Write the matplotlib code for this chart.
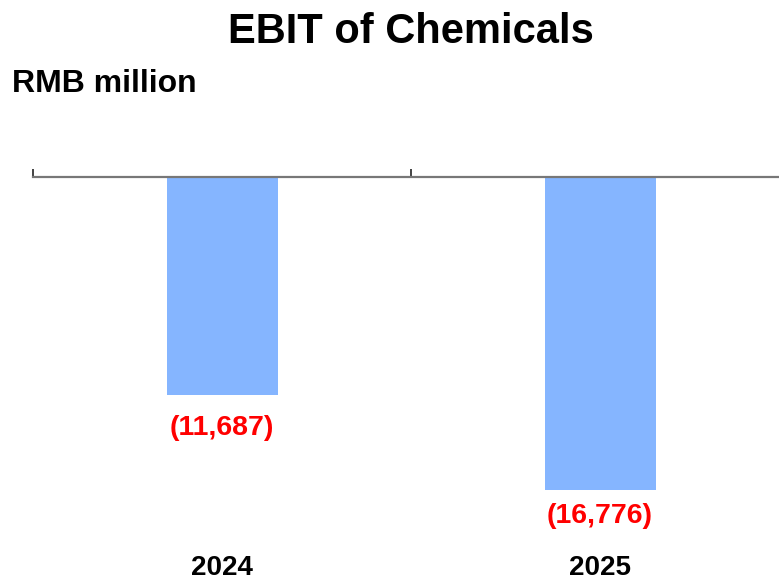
import matplotlib
matplotlib.use("Agg")
import matplotlib.pyplot as plt
from matplotlib import transforms

years = ["2024", "2025"]
ebit = [-11687, -16776]
value_labels = ["(11,687)", "(16,776)"]

plt.rcParams["font.family"] = ["Liberation Sans", "DejaVu Sans"]

W, H = 779, 580
fig = plt.figure(figsize=(W / 100, H / 100), dpi=100)

# axes: top edge is the zero line, left edge at the first category boundary
ax_left, ax_top, ax_bottom = 33, 177, 545
ax = fig.add_axes([ax_left / W, 1 - ax_bottom / H, 1 - ax_left / W, (ax_bottom - ax_top) / H])

px_per_cat = 378
px_per_unit = 313 / 16776

x = list(range(len(years)))
ax.bar(x, ebit, width=111 / px_per_cat, color="#85B5FF", edgecolor="none", zorder=1)

for s in ["left", "right", "bottom"]:
    ax.spines[s].set_visible(False)
ax.spines["top"].set_color("#777777")
ax.spines["top"].set_linewidth(1.6)
ax.spines["top"].set_zorder(3)

ax.set_yticks([])
ax.xaxis.set_ticks_position("top")
ax.set_xticks([-0.5, 0.5, 1.5])
ax.set_xticklabels([])
ax.tick_params(axis="x", direction="out", length=6, width=1.2, color="#222222")

ax.set_xlim(-0.5, -0.5 + (W - ax_left) / px_per_cat)
ax.set_ylim(-(ax_bottom - ax_top) / px_per_unit, 0)

# value labels below each bar (baseline offsets in pixels)
label_gap = [40, 33]
for xi, v, lab, gap in zip(x, ebit, value_labels, label_gap):
    ax.annotate(lab, xy=(xi, v), xytext=(0, -gap * 0.72), textcoords="offset points",
                ha="center", va="baseline", color="#FF0000", fontsize=20.5,
                fontweight="bold")

blend = transforms.blended_transform_factory(ax.transData, fig.transFigure)
for xi, yr in zip(x, years):
    ax.text(xi, 1 - 575 / H, yr, transform=blend, ha="center", va="baseline",
            fontsize=20, fontweight="bold")

fig.text(411 / W, 1 - 43 / H, "EBIT of Chemicals", ha="center", va="baseline",
         fontsize=30, fontweight="bold")
fig.text(12 / W, 1 - 92 / H, "RMB million", ha="left", va="baseline",
         fontsize=23, fontweight="bold")

fig.savefig("out.png", dpi=100)
